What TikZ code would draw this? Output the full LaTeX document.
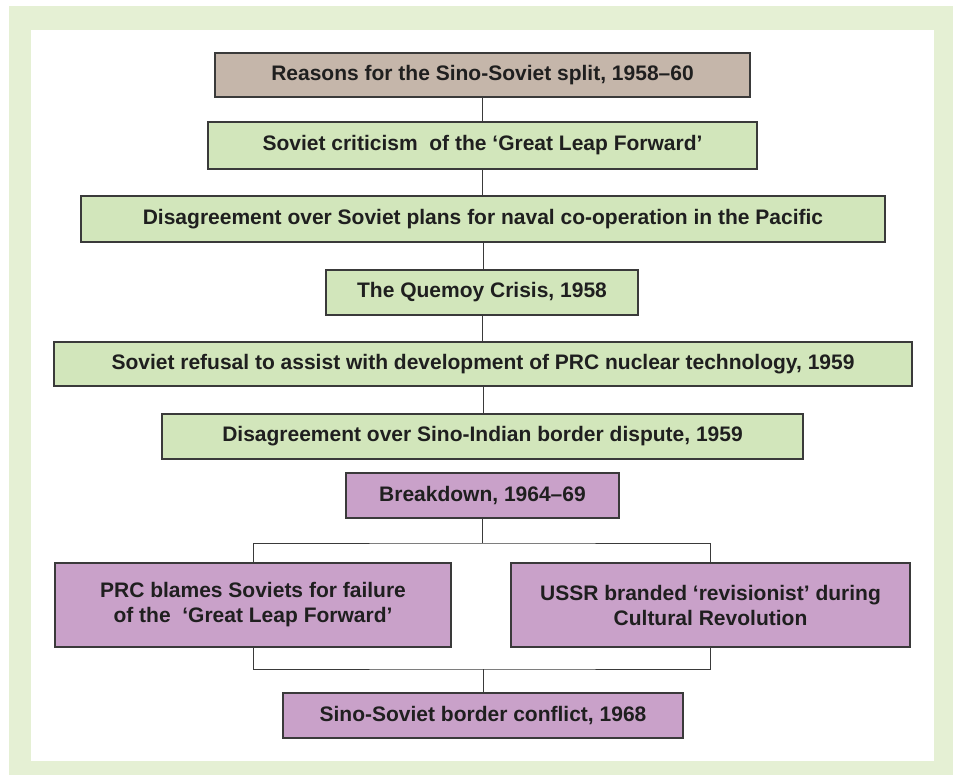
\documentclass[tikz,border=0pt]{standalone}
\usepackage{fontspec}
\setmainfont{Liberation Sans}
\definecolor{framegreen}{HTML}{E5F0D4}
\definecolor{boxbrown}{HTML}{C5B6AA}
\definecolor{boxgreen}{HTML}{D2E6BB}
\definecolor{boxpurple}{HTML}{C9A1C9}
\definecolor{edgegray}{HTML}{3A3A3A}
\begin{document}
\begin{tikzpicture}[x=1pt,y=-1pt,
  box/.style={draw=edgegray, line width=1.3pt, rectangle, inner sep=0pt, align=center,
    font=\fontsize{21}{25}\selectfont\bfseries, text=black!88},
  brownbox/.style={box, fill=boxbrown},
  greenbox/.style={box, fill=boxgreen},
  purplebox/.style={box, fill=boxpurple},
  link/.style={draw=edgegray, line width=1pt}]
  % page frame
  \useasboundingbox (0,0) rectangle (956,775);
  \fill[framegreen] (9,6) rectangle (953,775);
  \fill[white] (31,30) rectangle (934,761);

  % reasons for the split
  \node[brownbox, minimum width=535pt, minimum height=44pt] (reasons) at (482.5,75) {Reasons for the Sino-Soviet split, 1958--60};
  \node[greenbox, minimum width=549pt, minimum height=47pt] (leap) at (482.5,145.5) {Soviet criticism\ \ of the `Great Leap Forward'};
  \node[greenbox, minimum width=804pt, minimum height=46pt] (naval) at (483,219) {Disagreement over Soviet plans for naval co-operation in the Pacific};
  \node[greenbox, minimum width=312pt, minimum height=45pt] (quemoy) at (482,292.5) {The Quemoy Crisis, 1958};
  \node[greenbox, minimum width=858pt, minimum height=44pt] (nuclear) at (483,364) {Soviet refusal to assist with development of PRC nuclear technology, 1959};
  \node[greenbox, minimum width=641pt, minimum height=45pt] (border) at (482.5,436.5) {Disagreement over Sino-Indian border dispute, 1959};

  % breakdown
  \node[purplebox, minimum width=273pt, minimum height=45pt] (breakdown) at (482.5,495.5) {Breakdown, 1964--69};
  \node[purplebox, minimum width=396pt, minimum height=84pt] (blame) at (253,605) {PRC blames Soviets for failure\\of the\ \ `Great Leap Forward'};
  \node[purplebox, minimum width=399pt, minimum height=84pt] (revis) at (710.5,605) {USSR branded `revisionist' during\\Cultural Revolution};
  \node[purplebox, minimum width=400pt, minimum height=45pt] (conflict) at (483,715.5) {Sino-Soviet border conflict, 1968};

  % connectors
  \coordinate (split) at (483,543);
  \coordinate (join) at (483,669);
  \draw[link] (reasons.south) -- (reasons.south |- leap.north);
  \draw[link] (leap.south) -- (leap.south |- naval.north);
  \draw[link] (naval.south) -- (naval.south |- quemoy.north);
  \draw[link] (quemoy.south) -- (quemoy.south |- nuclear.north);
  \draw[link] (nuclear.south) -- (nuclear.south |- border.north);
  \draw[link] (breakdown.south) -- (breakdown.south |- split);
  \draw[link] (blame.north) |- (split) -| (revis.north);
  \draw[link] (blame.south) |- (join) -| (revis.south);
  \draw[link] (join) -- (join |- conflict.north);
\end{tikzpicture}
\end{document}
